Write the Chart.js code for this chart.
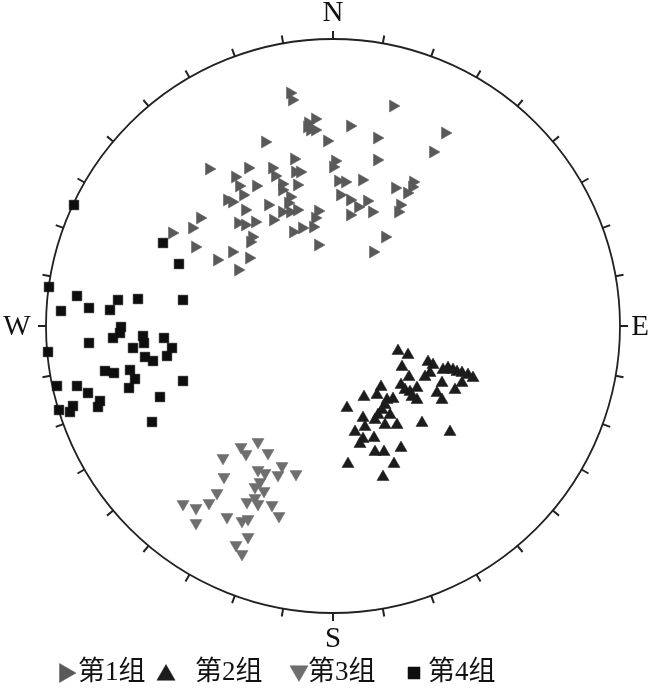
<!DOCTYPE html>
<html><head><meta charset="utf-8">
<script src="https://cdn.jsdelivr.net/npm/chart.js@4.4.1/dist/chart.umd.min.js"></script>
<style>html,body{margin:0;padding:0;background:#fff}#wrap{width:655px;height:696px;position:relative}</style>
</head><body><div id="wrap"><canvas id="c"></canvas></div>
<script>
// Net radius in data units (points read as offsets from the net centre)
const R = 287;
const groupLabels = ['第1组','第2组','第3组','第4组'];
const directionLabels = ['N','E','S','W'];

const g1x = [-43,-41,-26,-68,-124,-98,-85,-61,-58,-39,-38,-94,-77,-51,-36,60,-25,-18,-23,-18,17,-6,44,112,100,2,0,44,5,12,29,62,80,79,-33,7,17,34,25,39,17,67,65,-15,-18,-20,-31,-15,52,40,74,-51,-90,-106,-101,-43,-45,-65,-88,-51,-43,-36,-133,-60,-95,-88,-78,-141,-40,-161,-81,-83,-138,-101,-116,-84,-95];
const g1y = [233,226,199,184,157,149,158,158,150,167,154,140,140,142,141,220,203,207,196,196,200,185,188,193,174,165,159,166,145,144,146,138,144,139,154,131,126,125,119,114,111,121,114,115,108,99,98,81,89,74,133,136,131,126,124,129,123,121,116,114,114,116,108,106,103,101,104,98,94,93,89,84,79,74,66,68,56];

const g2x = [65,75,69,95,100,76,92,97,115,120,124,129,135,140,109,129,122,104,109,48,44,31,68,72,77,84,79,84,54,60,52,49,45,57,14,30,32,52,64,42,89,22,30,27,41,117,42,51,68,15,61,50,110];
const g2y = [-25,-29,-41,-36,-39,-51,-51,-47,-42,-44,-46,-47,-49,-52,-57,-57,-64,-67,-74,-61,-69,-71,-59,-64,-66,-62,-71,-74,-74,-73,-79,-84,-89,-89,-82,-92,-101,-99,-99,-94,-97,-106,-113,-118,-112,-106,-126,-126,-122,-138,-138,-151,-44];

const g3x = [-75,-92,-87,-65,-110,-75,-68,-51,-55,-37,-109,-73,-78,-69,-116,-124,-150,-137,-86,-78,-75,-61,-54,-106,-91,-85,-137,-85,-97,-91];
const g3y = [-116,-121,-128,-127,-132,-144,-147,-140,-149,-148,-151,-156,-161,-165,-167,-177,-178,-182,-176,-172,-178,-179,-190,-191,-195,-193,-197,-211,-219,-228];

const g4x = [-259,-170,-154,-284,-256,-215,-195,-150,-272,-244,-223,-212,-213,-220,-244,-190,-189,-169,-200,-161,-285,-188,-180,-166,-228,-219,-203,-198,-204,-150,-276,-256,-245,-173,-233,-235,-260,-274,-263,-181];
const g4y = [121,83,62,39,30,26,27,26,15,18,16,-1,-7,-12,-17,-10,-17,-12,-22,-22,-26,-31,-35,-30,-45,-47,-44,-53,-62,-55,-60,-60,-67,-71,-75,-81,-80,-84,-86,-96];

function pts(xs, ys){ return xs.map((x,i)=>({x:x, y:ys[i]})); }

const styles = [
  {color:'#595959', style:'triangle', rot:90, r:7},
  {color:'#1c1c1c', style:'triangle', rot:0, r:7},
  {color:'#6e6e6e', style:'triangle', rot:180, r:7},
  {color:'#0e0e0e', style:'rect', rot:0, r:6.8}
];
const series = [pts(g1x,g1y), pts(g2x,g2y), pts(g3x,g3y), pts(g4x,g4y)];

const netPlugin = {
  id:'net',
  beforeDatasetsDraw(chart){
    const ctx = chart.ctx, xs = chart.scales.x, ys = chart.scales.y;
    const cx = xs.getPixelForValue(0), cy = ys.getPixelForValue(0);
    const r = xs.getPixelForValue(R) - cx;
    ctx.save();
    ctx.strokeStyle = '#222'; ctx.lineWidth = 1.8;
    ctx.beginPath(); ctx.arc(cx, cy, r, 0, Math.PI*2); ctx.stroke();
    ctx.lineWidth = 2;
    for (let d = 0; d < 360; d += 10) {
      const a = d*Math.PI/180;
      ctx.beginPath();
      ctx.moveTo(cx + r*Math.sin(a), cy - r*Math.cos(a));
      ctx.lineTo(cx + (r+8)*Math.sin(a), cy - (r+8)*Math.cos(a));
      ctx.stroke();
    }
    ctx.fillStyle = '#111';
    ctx.font = '29px "Liberation Serif", "DejaVu Serif", serif';
    ctx.textAlign = 'center'; ctx.textBaseline = 'middle';
    ctx.fillText(directionLabels[0], cx, cy - r - 26);
    ctx.fillText(directionLabels[1], cx + r + 20, cy + 1);
    ctx.fillText(directionLabels[2], cx, cy + r + 26);
    ctx.fillText(directionLabels[3], cx - r - 29, cy + 1);
    ctx.restore();
  },
  afterDraw(chart){
    const ctx = chart.ctx;
    const markerX = [65,166,299,414], textX = [78,195,308,428], sizes = [11,10.5,10.5,8.5];
    const y = 673;
    ctx.save();
    chart.data.datasets.forEach((ds,i)=>{
      ctx.fillStyle = ds.pointBackgroundColor; ctx.strokeStyle = ds.pointBackgroundColor;
      ctx.lineWidth = 0.5;
      Chart.helpers.drawPoint(ctx, {pointStyle: ds.pointStyle, rotation: ds.pointRotation, radius: sizes[i], borderWidth: 0.5}, markerX[i], y + (i===1?2:(i===2?-2:0)));
      ctx.fillStyle = '#111';
      ctx.font = '27px "Liberation Serif", "Noto Sans CJK SC", serif';
      ctx.textAlign = 'left'; ctx.textBaseline = 'middle';
      ctx.fillText(ds.label, textX[i], y);
    });
    ctx.restore();
  }
};

new Chart(document.getElementById('c'), {
  type:'scatter',
  data:{ datasets: series.map((d,i)=>({
    label: groupLabels[i], data: d,
    pointStyle: styles[i].style, pointRotation: styles[i].rot,
    pointRadius: styles[i].r, pointHoverRadius: styles[i].r,
    pointBackgroundColor: styles[i].color, pointBorderColor: styles[i].color,
    pointBorderWidth: 0.5, clip: false
  }))},
  options:{
    responsive:true, maintainAspectRatio:false, animation:false,
    layout:{ padding:{ left:46, right:35, top:39, bottom:83 } },
    scales:{
      x:{ type:'linear', min:-R, max:R, display:false },
      y:{ type:'linear', min:-R, max:R, display:false }
    },
    plugins:{ legend:{display:false}, tooltip:{enabled:false} }
  },
  plugins:[netPlugin]
});
</script></body></html>
